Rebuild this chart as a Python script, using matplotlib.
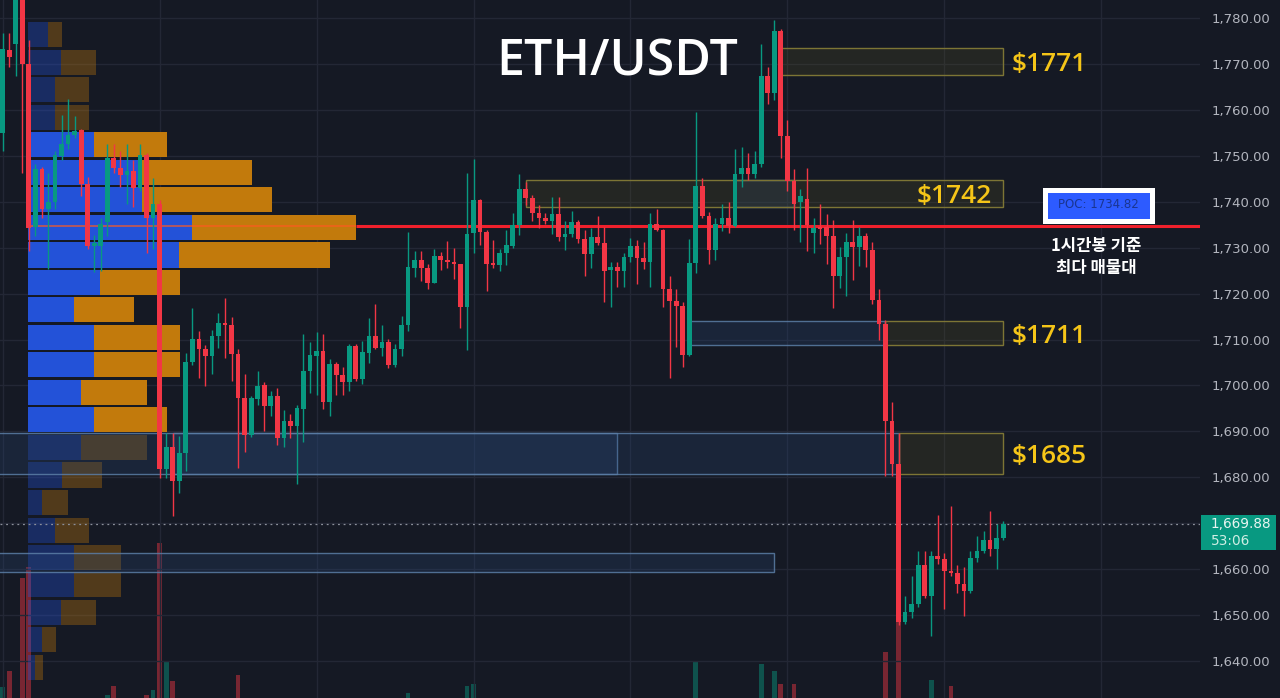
import numpy as np
import matplotlib
matplotlib.use("Agg")
import matplotlib.pyplot as plt
import matplotlib.transforms as mtransforms
from matplotlib.colors import to_rgba
from matplotlib.patches import Rectangle

# ETH/USDT 1h candles
opens = [1755.0, 1773.0, 1774.3, 1786.0, 1770.0, 1734.5, 1747.1, 1738.4, 1739.9, 1749.9,
         1752.5, 1754.5, 1755.6, 1743.8, 1730.3, 1730.3, 1735.6, 1749.5, 1747.3, 1745.8,
         1746.7, 1743.0, 1750.2, 1736.4, 1739.5, 1681.8, 1686.6, 1679.2, 1685.3, 1705.1,
         1710.1, 1707.9, 1706.4, 1710.8, 1713.6, 1713.2, 1706.8, 1697.3, 1689.2, 1697.0,
         1700.1, 1695.5, 1697.7, 1688.5, 1692.3, 1691.2, 1694.9, 1703.1, 1706.4, 1707.5,
         1696.4, 1704.7, 1702.3, 1700.7, 1708.6, 1701.4, 1707.1, 1710.8, 1708.1, 1709.4,
         1704.4, 1707.9, 1713.2, 1725.6, 1727.3, 1725.6, 1722.3, 1728.2, 1727.3, 1726.9,
         1726.4, 1717.1, 1733.2, 1740.4, 1733.4, 1726.6, 1726.2, 1728.8, 1730.4, 1734.9,
         1742.8, 1740.8, 1737.5, 1736.4, 1735.8, 1737.3, 1732.3, 1733.0, 1735.6, 1731.9,
         1728.6, 1732.3, 1731.0, 1725.1, 1725.8, 1724.9, 1728.0, 1730.3, 1727.7, 1726.9,
         1735.1, 1733.8, 1721.0, 1718.4, 1717.3, 1706.6, 1726.6, 1743.4, 1736.9, 1729.5,
         1735.1, 1736.4, 1734.7, 1746.0, 1747.3, 1746.0, 1748.2, 1767.4, 1763.7, 1777.2,
         1754.3, 1744.5, 1739.9, 1740.6, 1733.2, 1734.5, 1734.5, 1732.5, 1723.8, 1728.0,
         1731.2, 1730.1, 1732.5, 1729.5, 1718.6, 1713.4, 1692.3, 1682.9, 1648.5, 1650.7,
         1652.4, 1660.9, 1654.2, 1662.9, 1662.2, 1659.6, 1659.2, 1656.8, 1655.3, 1662.4,
         1664.0, 1666.4, 1664.4, 1666.8]
highs = [1776.7, 1776.7, 1788.0, 1789.0, 1775.2, 1748.2, 1747.5, 1746.2, 1751.0, 1758.9,
         1762.3, 1758.6, 1755.8, 1745.4, 1732.7, 1736.4, 1752.5, 1752.5, 1751.0, 1752.5,
         1749.1, 1752.5, 1750.6, 1745.2, 1740.4, 1689.6, 1689.6, 1689.0, 1707.1, 1716.8,
         1711.8, 1708.8, 1712.1, 1715.8, 1719.0, 1714.9, 1707.9, 1702.5, 1697.7, 1703.1,
         1700.7, 1698.8, 1699.4, 1694.6, 1693.8, 1695.7, 1711.2, 1709.4, 1711.6, 1711.2,
         1705.7, 1705.1, 1704.0, 1709.0, 1709.0, 1709.7, 1714.7, 1717.7, 1713.2, 1710.1,
         1709.0, 1715.1, 1733.4, 1729.3, 1729.3, 1726.4, 1729.7, 1729.0, 1731.4, 1729.9,
         1726.4, 1746.2, 1749.3, 1740.6, 1733.8, 1731.6, 1729.7, 1733.8, 1737.5, 1746.0,
         1744.3, 1741.4, 1739.3, 1737.5, 1741.0, 1741.0, 1735.8, 1738.0, 1736.0, 1733.8,
         1734.3, 1736.9, 1734.5, 1726.9, 1726.9, 1728.8, 1732.1, 1731.6, 1731.2, 1737.5,
         1738.4, 1734.0, 1723.8, 1721.0, 1718.2, 1731.9, 1759.5, 1745.2, 1737.7, 1736.4,
         1739.5, 1739.9, 1751.5, 1751.9, 1750.6, 1751.0, 1774.3, 1769.3, 1779.6, 1777.6,
         1757.8, 1747.1, 1742.8, 1747.3, 1736.4, 1739.5, 1737.3, 1736.0, 1730.1, 1733.2,
         1736.0, 1734.5, 1733.2, 1731.2, 1721.0, 1714.3, 1696.4, 1689.6, 1654.2, 1658.5,
         1664.0, 1664.0, 1664.0, 1671.8, 1663.5, 1673.7, 1660.9, 1660.5, 1664.0, 1667.2,
         1668.3, 1672.7, 1669.8, 1670.5]
lows = [1751.0, 1769.3, 1767.4, 1746.2, 1729.3, 1732.5, 1736.4, 1725.3, 1738.4, 1749.1,
        1751.5, 1753.9, 1741.2, 1729.7, 1724.7, 1724.9, 1732.5, 1746.2, 1743.2, 1739.5,
        1738.8, 1742.3, 1728.8, 1729.7, 1679.8, 1679.8, 1671.6, 1676.6, 1681.4, 1704.4,
        1701.6, 1699.9, 1702.5, 1708.1, 1706.0, 1701.0, 1682.0, 1685.5, 1688.8, 1695.7,
        1690.1, 1693.3, 1687.0, 1686.6, 1688.5, 1678.5, 1687.7, 1698.3, 1697.9, 1694.9,
        1693.3, 1697.9, 1697.9, 1698.8, 1701.0, 1700.3, 1704.9, 1707.9, 1706.4, 1703.8,
        1704.0, 1706.4, 1711.8, 1723.6, 1722.7, 1721.0, 1722.3, 1725.1, 1725.6, 1723.2,
        1712.5, 1707.7, 1728.8, 1730.6, 1720.5, 1725.6, 1724.9, 1726.2, 1729.9, 1732.7,
        1739.3, 1735.8, 1734.3, 1735.1, 1733.0, 1731.4, 1729.5, 1732.3, 1731.0, 1723.8,
        1725.6, 1730.6, 1718.2, 1717.1, 1721.4, 1721.4, 1726.9, 1722.1, 1725.3, 1721.4,
        1733.6, 1717.1, 1701.6, 1708.4, 1704.0, 1706.4, 1724.5, 1736.4, 1726.4, 1727.3,
        1733.6, 1733.2, 1734.5, 1743.2, 1744.7, 1745.2, 1747.5, 1761.3, 1762.1, 1749.5,
        1742.3, 1733.8, 1731.2, 1729.3, 1728.8, 1730.8, 1726.4, 1716.9, 1721.2, 1719.5,
        1722.9, 1726.0, 1725.8, 1717.7, 1709.9, 1680.3, 1680.3, 1647.9, 1648.1, 1649.4,
        1651.8, 1653.7, 1645.5, 1661.1, 1651.3, 1658.5, 1654.8, 1649.8, 1654.8, 1661.6,
        1663.5, 1662.9, 1660.0, 1666.4]
closes = [1773.2, 1771.5, 1786.0, 1770.0, 1734.3, 1747.1, 1738.4, 1739.9, 1750.2, 1752.5,
          1754.5, 1755.4, 1743.8, 1730.3, 1731.0, 1735.1, 1749.5, 1747.3, 1745.8, 1746.7,
          1743.0, 1750.2, 1736.4, 1739.5, 1681.8, 1686.6, 1679.2, 1685.3, 1705.1, 1710.1,
          1707.9, 1706.4, 1710.8, 1713.6, 1713.2, 1706.8, 1697.3, 1689.2, 1697.3, 1699.9,
          1695.5, 1697.7, 1688.5, 1692.3, 1691.2, 1695.1, 1703.1, 1706.6, 1707.5, 1696.4,
          1704.7, 1702.3, 1700.7, 1708.6, 1701.4, 1707.3, 1710.8, 1708.1, 1709.4, 1704.4,
          1707.9, 1713.2, 1725.8, 1727.3, 1725.6, 1722.3, 1728.2, 1727.3, 1726.9, 1726.4,
          1717.1, 1733.0, 1740.4, 1733.4, 1726.4, 1726.2, 1728.8, 1730.6, 1734.9, 1742.8,
          1740.8, 1737.5, 1736.4, 1735.8, 1737.3, 1732.3, 1733.0, 1735.6, 1731.9, 1728.6,
          1732.3, 1731.0, 1724.9, 1725.8, 1724.9, 1728.0, 1730.3, 1727.7, 1726.9, 1735.1,
          1733.8, 1721.0, 1718.4, 1717.3, 1706.6, 1726.6, 1743.4, 1736.9, 1729.5, 1735.1,
          1736.4, 1734.7, 1746.0, 1747.3, 1746.0, 1748.2, 1767.4, 1763.7, 1777.2, 1754.3,
          1744.5, 1739.5, 1741.2, 1734.9, 1734.3, 1734.0, 1732.5, 1723.8, 1728.0, 1731.2,
          1730.1, 1732.5, 1729.5, 1718.6, 1713.4, 1692.3, 1682.9, 1648.5, 1650.7, 1652.4,
          1660.9, 1654.2, 1662.9, 1662.2, 1659.6, 1659.2, 1656.8, 1655.3, 1662.4, 1664.0,
          1666.4, 1664.4, 1666.8, 1669.88]
# volume (K), only the bars that reach into the visible area
volumes = [1.1, 2.7, 0, 12.0, 13.1, 0, 0, 0, 0, 0,
           0, 0, 0, 0, 0, 0, 0.3, 1.2, 0, 0,
           0, 0, 0.3, 0.8, 15.5, 3.6, 1.7, 0, 0, 0,
           0, 0, 0, 0, 0, 0, 2.3, 0, 0, 0,
           0, 0, 0, 0, 0, 0, 0, 0, 0, 0,
           0, 0, 0, 0, 0, 0, 0, 0, 0, 0,
           0, 0, 0.5, 0, 0, 0, 0, 0, 0, 0,
           0, 1.2, 1.4, 0, 0, 0, 0, 0, 0, 0,
           0, 0, 0, 0, 0, 0, 0, 0, 0, 0,
           0, 0, 0, 0, 0, 0, 0, 0, 0, 0,
           0, 0, 0, 0, 0, 0, 3.6, 0, 0, 0,
           0, 0, 0, 0, 0, 0, 3.4, 0, 2.7, 1.4,
           0, 1.4, 0, 0, 0, 0, 0, 0, 0, 0,
           0, 0, 0, 0, 0, 4.6, 0, 7.6, 0, 0,
           0, 0, 1.8, 0, 0, 1.2, 0, 0, 0, 0,
           0, 0, 0, 0]

# volume profile (price rows, buy / sell volume)
vp_levels = [1776.4, 1770.4, 1764.4, 1758.4, 1752.4, 1746.4, 1740.4, 1734.4,
             1728.4, 1722.5, 1716.5, 1710.5, 1704.5, 1698.5, 1692.5, 1686.5,
             1680.5, 1674.5, 1668.5, 1662.6, 1656.6, 1650.6, 1644.6, 1638.6]
vp_up = [2.0, 3.3, 2.7, 2.7, 6.6, 11.2, 11.4, 16.4, 15.1, 7.2, 4.6, 6.6,
         6.6, 5.3, 6.6, 5.3, 3.4, 1.4, 2.7, 4.6, 4.6, 3.3, 1.4, 0.7]
vp_down = [1.4, 3.5, 3.4, 3.4, 7.3, 11.2, 13.0, 16.4, 15.1, 8.0, 6.0, 8.6,
           8.6, 6.6, 7.3, 6.6, 4.0, 2.6, 3.4, 4.7, 4.7, 3.5, 1.4, 0.8]
va_low, va_high = 1689.5, 1755.4
poc_price = 1734.82
cur_price = 1669.88

# zones: (start candle, end candle, low, high)
yellow_zones = [(119, 153, 1767.6, 1773.5), (80, 153, 1738.85, 1744.73),
                (135, 153, 1708.8, 1714.0), (137, 153, 1680.7, 1689.65)]
yellow_labels = ["$1771", "$1742", "$1711", "$1685"]
blue_zones = [(112, 121, 1738.85, 1744.73), (105, 135, 1708.8, 1714.0),
              (-5, 94, 1680.7, 1689.65), (26, 137, 1680.7, 1689.65),
              (-5, 118, 1659.3, 1663.5)]

BG = '#151924'
UP = '#089981'
DN = '#f23645'
GRID = '#232735'

fig = plt.figure(figsize=(12.8, 6.98), dpi=100, facecolor=BG)
ax = fig.add_axes([0, 0, 1200 / 1280, 1])
ax_vol = ax.twinx()
ax_vol.set_zorder(0)
ax.set_zorder(1)
ax.patch.set_visible(False)
ax_vol.axis('off')

x = np.arange(len(opens))
o = np.array(opens)
h = np.array(highs)
l = np.array(lows)
c = np.array(closes)
colors = np.where(c >= o, UP, DN)

ax.set_xlim(-0.41, 183.1)
ax.set_ylim(1631.95, 1783.92)

# volume
ax_vol.bar(x, volumes, width=0.72, color=colors, alpha=0.45, linewidth=0)
ax_vol.set_ylim(0, 69.8)

# volume profile
vp_left = 3.87
vp_scale = 10 / 6.54
up_w = np.array(vp_up) * vp_scale
dn_w = np.array(vp_down) * vp_scale
inside = [(va_low <= p <= va_high) for p in vp_levels]
blue_c = [to_rgba('#2352d8', 1.0 if k else 0.35) for k in inside]
orng_c = [to_rgba('#c27a0c', 1.0 if k else 0.35) for k in inside]
ax.barh(vp_levels, up_w, left=vp_left, height=5.45, color=blue_c, linewidth=0, zorder=2)
ax.barh(vp_levels, dn_w, left=vp_left + up_w, height=5.45, color=orng_c, linewidth=0, zorder=2)

# POC line
poc_i = vp_levels.index(1734.4)
vp_end = vp_left + up_w[poc_i] + dn_w[poc_i]
ax.hlines(poc_price, vp_left, vp_end, color='#ff5a1f', lw=1.3, alpha=0.7, zorder=3)
ax.hlines(poc_price, vp_end, 183.1, color='#f0202c', lw=2.2, zorder=4)

# zones
for x0, x1, y0, y1 in blue_zones:
    ax.add_patch(Rectangle((x0, y0), x1 - x0, y1 - y0, facecolor=to_rgba('#2a4a7a', 0.25),
                           edgecolor=to_rgba('#5b7ea6', 0.85), lw=1, zorder=3))
for (x0, x1, y0, y1), lab in zip(yellow_zones, yellow_labels):
    ax.add_patch(Rectangle((x0, y0), x1 - x0, y1 - y0, facecolor=to_rgba('#5a5520', 0.22),
                           edgecolor='#7d7535', lw=1, zorder=3))
    ymid = (y0 + y1) / 2 - 0.7
    if lab == "$1742":
        ax.text(x1 - 1.7, ymid, lab, ha='right', va='center', color='#f5c518',
                fontsize=19, family='Open Sans', fontweight='semibold', zorder=8)
    else:
        ax.text(x1 + 1.3, ymid, lab, ha='left', va='center', color='#f5c518',
                fontsize=19, family='Open Sans', fontweight='semibold', zorder=8)

# candles
ax.vlines(x, l, h, colors=colors, lw=1, zorder=5)
body_h = np.maximum(np.abs(c - o), 0.3)
ax.bar(x, body_h, bottom=np.minimum(o, c), width=0.72, color=colors, linewidth=0, zorder=6)

# current price
ax.axhline(cur_price, color='#8c909b', lw=0.9, ls=(0, (1.5, 3)), zorder=4)
trans = mtransforms.blended_transform_factory(ax.transAxes, ax.transData)
ax.add_patch(Rectangle((1.0008, cur_price - 5.7), 0.0625, 7.6, transform=trans,
                       facecolor=UP, edgecolor='none', clip_on=False, zorder=10))
ax.text(1.0092, cur_price, f"{cur_price:,.2f}", transform=trans, ha='left', va='center',
        color='#e8f5f1', fontsize=9.8, clip_on=False, zorder=11)
ax.text(1.0092, cur_price - 3.7, "53:06", transform=trans, ha='left', va='center',
        color='#cfeee4', fontsize=9.8, clip_on=False, zorder=11)

# POC label
ax.add_patch(Rectangle((159.45, 1735.9), 16.35, 6.75, facecolor='#2d5bff',
                       edgecolor='white', lw=3.6, zorder=12))
ax.text(167.6, 1739.3, f"POC: {poc_price}", ha='center', va='center', color='#1a3590',
        fontsize=8.5, zorder=13)
ax.text(167.3, 1728.0, "1시간봉 기준\n최다 매물대", ha='center', va='center', color='white',
        fontsize=12, family=['Noto Sans CJK KR', 'DejaVu Sans'], fontweight='bold',
        linespacing=1.3, zorder=13)

ax.text(0.514, 0.91, "ETH/USDT", transform=ax.transAxes, ha='center', va='center',
        color='white', fontsize=36, family='Open Sans', fontweight='semibold', zorder=13)

# axes styling
yt = np.arange(1640, 1781, 10)
ax.set_yticks(yt)
ax.set_yticklabels([f"{v:,.2f}" for v in yt])
ax.yaxis.tick_right()
ax.set_xticks(np.arange(0, 184, 24))
ax.tick_params(axis='y', length=0, pad=8, labelcolor='#b2b5be', labelsize=9.5)
ax.tick_params(axis='x', length=0, labelbottom=False)
ax.grid(True, color=GRID, lw=1)
ax.set_axisbelow(True)
for s in ax.spines.values():
    s.set_visible(False)

fig.savefig("out.png", dpi=100, facecolor=BG)
